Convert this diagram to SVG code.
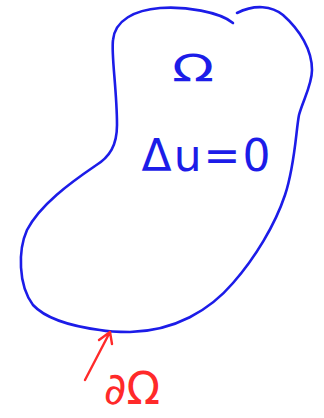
<svg xmlns="http://www.w3.org/2000/svg" width="324" height="418" viewBox="0 0 324 418">
<style>
.blue{stroke:#1c1ce8;fill:none;stroke-width:2.6;stroke-linecap:round;stroke-linejoin:round}
.red{stroke:#ff2a2a;fill:none;stroke-width:2.4;stroke-linecap:round;stroke-linejoin:round}
.bt{fill:#1c1ce8;font-family:"DejaVu Sans","Liberation Sans",sans-serif}
.rt{fill:#ff2a2a;font-family:"DejaVu Sans","Liberation Sans",sans-serif}
</style>
<rect width="324" height="418" fill="#ffffff"/>
<g id="domain">
<path class="blue" d="M 233,23 C 220,12 185,6 160,8 C 135,10 115,20 113,40 C 111,55 117,90 117,125 C 117,145 110,157 95,166 C 70,183 40,205 27,230 C 18,250 18,285 33,305 C 45,318 70,326 100,330 C 110,332 120,332 130,332 C 175,331 210,310 233,283 C 255,258 275,225 285,195 C 295,165 296,130 299,115 C 303,100 312,85 312,70 C 312,50 300,30 283,15 C 272,6 255,4 237,13"/>
</g>
<g id="omega-label">
<text class="bt" x="193" y="81" font-size="38" text-anchor="middle" transform="translate(193 0) scale(1.45 1) translate(-193 0)">Ω</text>
</g>
<g id="equation">
<text class="bt" x="207" y="171" font-size="44" text-anchor="middle" letter-spacing="2">Δu=0</text>
</g>
<g id="connectors">
<path class="red" d="M 85,380 L 110,332 M 99,340 L 110,332 L 112,344"/>
</g>
<g id="boundary-label">
<text class="rt" x="132" y="404" font-size="44" text-anchor="middle">∂Ω</text>
</g>
</svg>
